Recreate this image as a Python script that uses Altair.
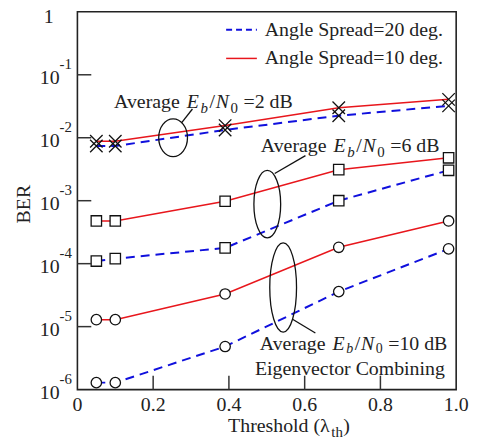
import altair as alt
import pandas as pd

# ---------------- data ----------------
thresholds = [0.05, 0.1, 0.39, 0.69, 0.98]
ber_2db_20 = [7.4e-3, 7.4e-3, 1.33e-2, 2.24e-2, 3.21e-2]
ber_2db_10 = [8.8e-3, 8.8e-3, 1.56e-2, 3.0e-2, 4.07e-2]
ber_6db_20 = [1.1e-4, 1.2e-4, 1.78e-4, 1.0e-3, 3.04e-3]
ber_6db_10 = [4.77e-4, 4.77e-4, 9.8e-4, 3.11e-3, 4.8e-3]
ber_10db_20 = [1.29e-6, 1.29e-6, 4.83e-6, 3.6e-5, 1.72e-4]
ber_10db_10 = [1.29e-5, 1.29e-5, 3.3e-5, 1.82e-4, 4.77e-4]
snr_levels = ["2", "6", "10"]
spread_labels = ["Angle Spread=20 deg.", "Angle Spread=10 deg."]
y_tick_values = [1e-1, 1e-2, 1e-3, 1e-4, 1e-5, 1e-6]
y_tick_exponents = ["-1", "-2", "-3", "-4", "-5", "-6"]
x_tick_values = [0.0, 0.2, 0.4, 0.6, 0.8, 1.0]
x_tick_labels = ["0", "0.2", "0.4", "0.6", "0.8", "1.0"]

series = {
    ("2", spread_labels[0]): ber_2db_20,
    ("2", spread_labels[1]): ber_2db_10,
    ("6", spread_labels[0]): ber_6db_20,
    ("6", spread_labels[1]): ber_6db_10,
    ("10", spread_labels[0]): ber_10db_20,
    ("10", spread_labels[1]): ber_10db_10,
}
rows = []
for (snr, spread), vals in series.items():
    for t, b in zip(thresholds, vals):
        rows.append({"threshold": t, "ber": b, "spread": spread, "snr": snr})
df = pd.DataFrame(rows)

# ---------------- style ----------------
FONT = "Liberation Serif"
TXT = "#222222"
BLUE = "#1010dd"
RED = "#e8161c"
W, H = 382, 381
TOP = 2
FS = 20
SUB = 15

xs = alt.Scale(domain=[0, 1], nice=False, zero=False)
ys = alt.Scale(type="log", domain=[1e-6, 1], nice=False)

one = pd.DataFrame({"a": [0]})

XPATH = "M-1.2,-1.2L1.2,1.2M-1.2,1.2L1.2,-1.2"

lines_blue = alt.Chart(df).transform_filter(
    alt.datum.spread == spread_labels[0]
).mark_line(color=BLUE, strokeWidth=2, strokeDash=[9, 6]).encode(
    x=alt.X("threshold:Q", scale=xs, axis=None),
    y=alt.Y("ber:Q", scale=ys, axis=None),
    detail="snr:N",
)
lines_red = alt.Chart(df).transform_filter(
    alt.datum.spread == spread_labels[1]
).mark_line(color=RED, strokeWidth=1.5).encode(
    x=alt.X("threshold:Q", scale=xs, axis=None),
    y=alt.Y("ber:Q", scale=ys, axis=None),
    detail="snr:N",
)
points = alt.Chart(df).mark_point(
    filled=True, color="white", stroke="#111111", strokeWidth=1.3, opacity=1, size=110
).encode(
    x=alt.X("threshold:Q", scale=xs, axis=None),
    y=alt.Y("ber:Q", scale=ys, axis=None),
    shape=alt.Shape("snr:N", scale=alt.Scale(domain=snr_levels, range=[XPATH, "square", "circle"]), legend=None),
)

# ticks (inward)
yticks = alt.Chart(pd.DataFrame({"v": y_tick_values[:-1]})).mark_rule(color="#333333", strokeWidth=1.5).encode(
    y=alt.Y("v:Q", scale=ys, axis=None), x=alt.value(0), x2=alt.value(14)
)
xticks = alt.Chart(pd.DataFrame({"v": x_tick_values[1:-1]})).mark_rule(color="#333333", strokeWidth=1.5).encode(
    x=alt.X("v:Q", scale=xs, axis=None), y=alt.value(H), y2=alt.value(H - 14)
)

ylab_df = pd.DataFrame({"v": y_tick_values, "e": y_tick_exponents})
ylab_base = alt.Chart(ylab_df).mark_text(
    text="10", align="right", baseline="alphabetic", dy=9, font=FONT, fontSize=FS, color=TXT
).encode(y=alt.Y("v:Q", scale=ys, axis=None), x=alt.value(-18))
ylab_exp = alt.Chart(ylab_df).mark_text(
    align="left", baseline="alphabetic", dy=-6, font=FONT, fontSize=SUB, color=TXT
).encode(y=alt.Y("v:Q", scale=ys, axis=None), x=alt.value(-18), text="e:N")
ylab_one = alt.Chart(pd.DataFrame({"v": [1.0]})).mark_text(
    text="1", align="center", baseline="alphabetic", dy=11, font=FONT, fontSize=FS, color=TXT
).encode(y=alt.Y("v:Q", scale=ys, axis=None), x=alt.value(-29))

xlab = alt.Chart(pd.DataFrame({"v": x_tick_values, "t": x_tick_labels})).mark_text(
    align="center", baseline="alphabetic", font=FONT, fontSize=FS, color=TXT
).encode(x=alt.X("v:Q", scale=xs, axis=None), y=alt.value(H + 22), text="t:N")

ytitle = alt.Chart(one).mark_text(
    text="BER", angle=270, align="center", baseline="middle", font=FONT, fontSize=FS, color=TXT
).encode(x=alt.value(-54), y=alt.value(196 - TOP))

# ---------------- rich text helper ----------------
WID = {" ": 250, "(": 333, ")": 333, "-": 333, ".": 250, "/": 278, "=": 564,
       "A": 722, "B": 667, "C": 667, "E": 611, "N": 722, "T": 611,
       "a": 444, "b": 500, "c": 444, "d": 500, "e": 444, "g": 500, "h": 500, "i": 278,
       "l": 278, "m": 778, "n": 500, "o": 500, "r": 333, "s": 389, "t": 278, "v": 500,
       "λ": 550}
WID_IT = {"E": 611, "N": 667, "b": 500}


def tw(s, size, italic=False):
    tab = WID_IT if italic else WID
    return sum(tab.get(c, WID.get(c, 500)) for c in s) * size / 1000.0


def rich(x0, y0, segs, size=20, sub=15, sub_dy=5, gap=0.6, it_gap=1.6):
    out = []
    x = x0
    for text, italic, is_sub in segs:
        s = sub if is_sub else size
        lead = len(text) - len(text.lstrip(" "))
        trail = len(text) - len(text.rstrip(" "))
        x += lead * 0.25 * s
        body = text.strip(" ")
        out.append(
            alt.Chart(one).mark_text(
                text=body, align="left", baseline="alphabetic", font=FONT, fontSize=s,
                fontStyle="italic" if italic else "normal", color=TXT,
            ).encode(x=alt.value(x), y=alt.value(y0 + (sub_dy if is_sub else 0)))
        )
        x += tw(body, s, italic) + trail * 0.25 * s + (it_gap if italic else gap)
    return out


def ebn0(db):
    return [("Average ", False, False), ("E", True, False), ("b", True, True), ("/", False, False),
            ("N", True, False), ("0", False, True), (" =" + db + " dB", False, False)]


annot = []
annot += rich(37, 99 - TOP, ebn0("2"))
annot += rich(185, 143 - TOP, ebn0("6"))
annot += rich(184, 343 - TOP, ebn0("10"), sub=14, sub_dy=3)
annot += rich(179, 368 - TOP, [("Eigenvector Combining", False, False)])
xtitle = rich(152, 426 - TOP, [("Threshold (λ", False, False), ("th", False, True), (")", False, False)],
              size=FS, sub=SUB, gap=0.3)


def ellipse_path(rx, ry):
    k = 0.5523
    return (f"M{rx:.4f},0 C{rx:.4f},{k*ry:.4f} {k*rx:.4f},{ry:.4f} 0,{ry:.4f} "
            f"C{-k*rx:.4f},{ry:.4f} {-rx:.4f},{k*ry:.4f} {-rx:.4f},0 "
            f"C{-rx:.4f},{-k*ry:.4f} {-k*rx:.4f},{-ry:.4f} 0,{-ry:.4f} "
            f"C{k*rx:.4f},{-ry:.4f} {rx:.4f},{-k*ry:.4f} {rx:.4f},0 Z")


def ellipse(cx, cy, w, h):
    return alt.Chart(one).mark_point(
        shape=ellipse_path(w / h, 1.0), size=h * h, filled=False, stroke="#111111", strokeWidth=1.3, opacity=1
    ).encode(x=alt.value(cx), y=alt.value(cy - TOP))


def leader(x1, y1, x2, y2):
    return alt.Chart(one).mark_rule(color="#111111", strokeWidth=1.3).encode(
        x=alt.value(x1), y=alt.value(y1 - TOP), x2=alt.value(x2), y2=alt.value(y2 - TOP)
    )


shapes = [
    ellipse(96.5, 129, 29, 38), leader(105, 114, 116, 100),
    ellipse(191.5, 196, 27, 68), leader(199, 165, 230, 147),
    ellipse(207.5, 280, 27, 90), leader(217, 312, 240, 326),
]

# legend (manual)
leg = [
    alt.Chart(one).mark_rule(color=BLUE, strokeWidth=2, strokeDash=[6, 4]).encode(
        x=alt.value(150), x2=alt.value(181), y=alt.value(20 - TOP)),
    alt.Chart(one).mark_rule(color=RED, strokeWidth=1.5).encode(
        x=alt.value(150), x2=alt.value(181), y=alt.value(49 - TOP)),
    alt.Chart(one).mark_text(text=spread_labels[0], align="left", baseline="alphabetic",
                             font=FONT, fontSize=FS, color=TXT).encode(x=alt.value(189), y=alt.value(26 - TOP)),
    alt.Chart(one).mark_text(text=spread_labels[1], align="left", baseline="alphabetic",
                             font=FONT, fontSize=FS, color=TXT).encode(x=alt.value(189), y=alt.value(55 - TOP)),
]

chart = alt.layer(
    lines_blue, lines_red, *shapes, points, yticks, xticks,
    ylab_base, ylab_exp, ylab_one, xlab, ytitle, *annot, *xtitle, *leg
).properties(
    width=W, height=H,
    padding={"left": 70, "top": TOP, "right": 20, "bottom": 50},
    autosize=alt.AutoSizeParams(type="none"),
).configure_view(stroke="#222222", strokeWidth=1.6)

chart.save("out.html", embed_options={"renderer": "svg", "actions": False})
